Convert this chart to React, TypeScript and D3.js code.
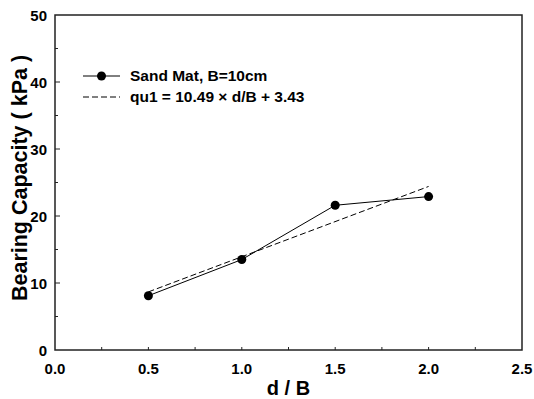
import { useEffect, useRef } from "react";
import * as d3 from "d3";

const dOverB = [0.5, 1.0, 1.5, 2.0];
const bearing = [8.1, 13.5, 21.6, 22.9];
const fitSlope = 10.49;
const fitIntercept = 3.43;
const xTicks = [0, 0.5, 1.0, 1.5, 2.0, 2.5];
const yTicks = [0, 10, 20, 30, 40, 50];
const legendLabels = ["Sand Mat, B=10cm", "qu1 = 10.49 × d/B + 3.43"];

export default function App() {
  const svgRef = useRef<SVGSVGElement>(null);

  useEffect(() => {
    if (!svgRef.current) return;
    d3.select(svgRef.current).selectAll("*").remove();

    const width = 534;
    const height = 399;
    const margin = { top: 15, right: 12, bottom: 49, left: 55 };

    const svg = d3.select(svgRef.current)
      .attr("width", width)
      .attr("height", height)
      .style("font-family", "Arial, 'Liberation Sans', sans-serif");

    const x = d3.scaleLinear().domain([0, 2.5]).range([margin.left, width - margin.right]);
    const y = d3.scaleLinear().domain([0, 50]).range([height - margin.bottom, margin.top]);

    // Frame
    svg.append("rect")
      .attr("x", x(0)).attr("y", y(50))
      .attr("width", x(2.5) - x(0)).attr("height", y(0) - y(50))
      .attr("fill", "none").attr("stroke", "#222").attr("stroke-width", 1.5);

    // Ticks (inward)
    const xMinor = d3.range(0.25, 2.5, 0.5);
    const yMinor = d3.range(5, 50, 10);
    const g = svg.append("g").attr("stroke", "#222").attr("stroke-width", 1);
    xTicks.slice(1, -1).concat(xMinor).forEach(t => {
      g.append("line").attr("x1", x(t)).attr("x2", x(t))
        .attr("y1", y(0)).attr("y2", y(0) - 3);
    });
    yTicks.slice(1, -1).forEach(t => {
      g.append("line").attr("x1", x(0)).attr("x2", x(0) + 5)
        .attr("y1", y(t)).attr("y2", y(t));
    });
    yMinor.forEach(t => {
      g.append("line").attr("x1", x(0)).attr("x2", x(0) + 3)
        .attr("y1", y(t)).attr("y2", y(t));
    });

    // Tick labels
    svg.append("g").selectAll("text").data(xTicks).enter().append("text")
      .attr("x", d => x(d)).attr("y", y(0) + 24)
      .attr("text-anchor", "middle")
      .style("font-size", "15px").style("font-weight", "bold")
      .text(d => d.toFixed(1));
    svg.append("g").selectAll("text").data(yTicks).enter().append("text")
      .attr("x", x(0) - 8).attr("y", d => y(d) + 5.5)
      .attr("text-anchor", "end")
      .style("font-size", "15px").style("font-weight", "bold")
      .text(d => d);

    // Axis titles
    svg.append("text")
      .attr("x", (x(0) + x(2.5)) / 2).attr("y", 395)
      .attr("text-anchor", "middle")
      .style("font-size", "20px").style("font-weight", "bold")
      .text("d / B");
    svg.append("text")
      .attr("transform", `translate(27, 178) rotate(-90)`)
      .attr("text-anchor", "middle")
      .style("font-size", "21.5px").style("font-weight", "bold")
      .text("Bearing Capacity ( kPa )");

    // Fit line
    const fitX = [dOverB[0], dOverB[dOverB.length - 1]];
    svg.append("path")
      .datum(fitX)
      .attr("d", d3.line<number>().x(d => x(d)).y(d => y(fitSlope * d + fitIntercept)))
      .attr("fill", "none").attr("stroke", "#000").attr("stroke-width", 1)
      .attr("stroke-dasharray", "6,3");

    // Data line
    const pts = dOverB.map((d, i) => [d, bearing[i]] as [number, number]);
    svg.append("path")
      .datum(pts)
      .attr("d", d3.line<[number, number]>().x(d => x(d[0])).y(d => y(d[1])))
      .attr("fill", "none").attr("stroke", "#000").attr("stroke-width", 1);
    svg.append("g").selectAll("circle").data(pts).enter().append("circle")
      .attr("cx", d => x(d[0])).attr("cy", d => y(d[1])).attr("r", 4.5)
      .attr("fill", "#000");

    // Legend
    const lg = svg.append("g");
    const ly = [76, 97];
    lg.append("line").attr("x1", 83).attr("x2", 120).attr("y1", ly[0]).attr("y2", ly[0])
      .attr("stroke", "#000").attr("stroke-width", 1);
    lg.append("circle").attr("cx", 101.5).attr("cy", ly[0]).attr("r", 4.5).attr("fill", "#000");
    lg.append("line").attr("x1", 83).attr("x2", 120).attr("y1", ly[1]).attr("y2", ly[1])
      .attr("stroke", "#000").attr("stroke-width", 1).attr("stroke-dasharray", "6,3");
    legendLabels.forEach((t, i) => {
      lg.append("text").attr("x", 130).attr("y", ly[i] + 5.3)
        .style("font-size", "15.5px").style("font-weight", "bold").text(t);
    });
  }, []);

  return (
    <div style={{ position: "absolute", left: 0, top: 0 }}>
      <svg ref={svgRef}></svg>
    </div>
  );
}
